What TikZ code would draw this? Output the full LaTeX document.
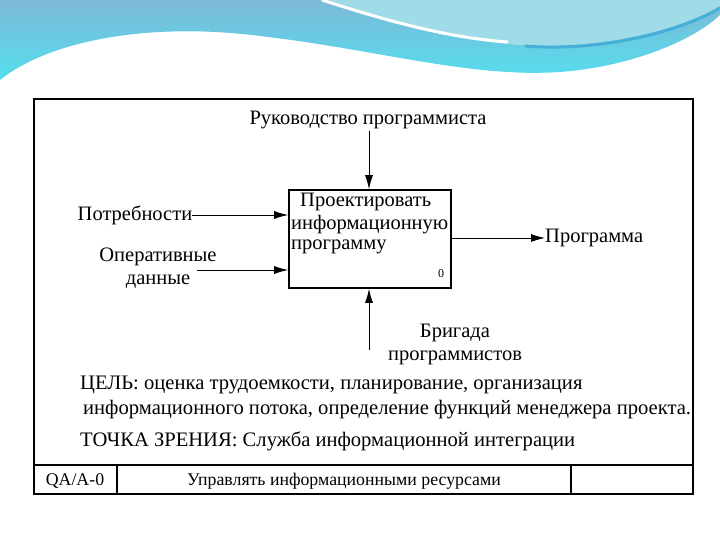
\documentclass[tikz,border=0pt]{standalone}
\usepackage{fontspec}
\setmainfont{Liberation Serif}
\usetikzlibrary{arrows.meta}
\definecolor{waveA}{RGB}{85,222,238}
\definecolor{waveB}{RGB}{125,185,215}
\definecolor{waveC}{RGB}{160,220,232}
\definecolor{waveD}{RGB}{70,175,215}
\begin{document}
\begin{tikzpicture}[x=1pt,y=-1pt,
  lbl/.style={inner sep=0pt,font=\fontsize{20.5}{23}\selectfont},
  body/.style={inner sep=0pt,anchor=west,font=\fontsize{20.6}{23}\selectfont},
  foot/.style={inner sep=0pt,font=\fontsize{17.8}{20}\selectfont},
  arr/.style={line width=0.9pt,-{Latex[length=14pt,width=8pt]}},
  thickframe/.style={line width=1.6pt}]
\useasboundingbox (0,0) rectangle (720,540);
% background decoration
\shade[shading angle=30, top color=waveB, bottom color=waveA]
  (0,0) -- (0,80) .. controls (50,40) and (150,22) .. (260,36)
  .. controls (380,50) and (470,78) .. (560,72)
  .. controls (640,66) and (700,35) .. (720,15) -- (720,0) -- cycle;
\fill[waveC]
  (320,0) .. controls (390,22) and (450,40) .. (520,45)
  .. controls (600,50) and (680,30) .. (720,6) -- (720,0) -- cycle;
\draw[white,line width=3pt] (322,0) .. controls (390,22) and (450,38) .. (508,42);
\draw[waveD,line width=3pt] (525,46) .. controls (600,52) and (680,32) .. (720,8);
% frame
\draw[thickframe] (34,99) rectangle (693,494);
\draw[thickframe] (34,465) -- (693,465);
\draw[thickframe] (117,465) -- (117,494);
\draw[thickframe] (571,465) -- (571,494);
% activity box
\node[draw,line width=1.6pt,minimum width=162pt,minimum height=98pt,inner sep=0pt] (box) at (370,239) {};
\node[lbl,anchor=west] (t1) at (300,202) {Проектировать};
\node[lbl,anchor=west] (t2) at (291,225) {информационную};
\node[lbl,anchor=west] (t3) at (291,247) {программу};
\node[inner sep=0pt,font=\fontsize{12}{13}\selectfont] (num) at (441,274) {0};
% labels
\node[lbl] (ctrl) at (368,120) {Руководство программиста};
\node[lbl,align=center] (in1) at (135,215) {Потребности};
\node[lbl,align=center] (in2) at (158,268) {Оперативные\\данные};
\node[lbl,anchor=west] (out) at (545,238) {Программа};
\node[lbl,align=center] (mech) at (455,344) {Бригада\\программистов};
% connectors
\coordinate (ctop) at (369,131);
\coordinate (mbot) at (369,350);
\coordinate (in2e) at (197,270);
\draw[arr] (ctop) -- (ctop |- box.north);
\draw[arr] (in1.east) -- (box.west |- in1.east);
\draw[arr] (in2e) -- (box.west |- in2e);
\draw[arr] (box.east |- out.west) -- (out.west);
\draw[arr] (mbot) -- (mbot |- box.south);
% purpose
\node[body] (p1) at (80,385) {ЦЕЛЬ: оценка трудоемкости, планирование, организация};
\node[body] (p2) at (83,410) {информационного потока, определение функций менеджера проекта.};
\node[body] (p3) at (80,441) {ТОЧКА ЗРЕНИЯ: Служба информационной интеграции};
% footer
\node[foot] (f1) at (75,481) {QA/A-0};
\node[foot] (f2) at (344,481) {Управлять информационными ресурсами};
\end{tikzpicture}
\end{document}
